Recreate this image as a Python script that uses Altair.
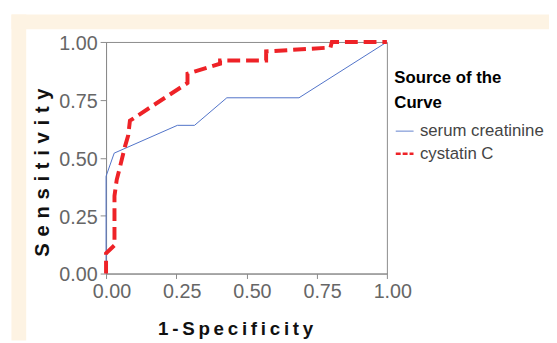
import altair as alt
import pandas as pd

series_names = ["serum creatinine", "cystatin C"]

creat_fpr = [0.0, 0.0, 0.029, 0.254, 0.315, 0.43, 0.687, 1.0]
creat_tpr = [0.0, 0.42, 0.52, 0.64, 0.64, 0.759, 0.759, 1.0]

cyst_fpr = [0.0, 0.0, 0.03, 0.03, 0.038, 0.05, 0.067, 0.079, 0.085, 0.29, 0.29,
            0.406, 0.406, 0.57, 0.57, 0.799, 0.804, 1.0]
cyst_tpr = [0.0, 0.087, 0.122, 0.335, 0.405, 0.462, 0.547, 0.597, 0.66, 0.823, 0.863,
            0.906, 0.92, 0.92, 0.959, 0.976, 1.0, 1.0]

tick_values = [0.0, 0.25, 0.5, 0.75, 1.0]

BLUE = "#4f72c8"
RED = "#ee2227"
CREAM = "#fdf3e3"
GRAY = "#8a8a8a"
SANS = "Liberation Sans, Arial, sans-serif"

df_creat = pd.DataFrame({"series": series_names[0], "fpr": creat_fpr, "tpr": creat_tpr,
                         "idx": range(len(creat_fpr))})
df_cyst = pd.DataFrame({"series": series_names[1], "fpr": cyst_fpr, "tpr": cyst_tpr,
                        "idx": range(len(cyst_fpr))})
df_all = pd.concat([df_creat, df_cyst], ignore_index=True)

x_title = "\u2009".join("1-Specificity")
y_title = "\u2004".join("Sensitivity")

x_enc = alt.X("fpr:Q", scale=alt.Scale(domain=[0, 1], nice=False, zero=False),
              axis=alt.Axis(values=tick_values, format=".2f", title=x_title,
                            labelOffset=5.5, labelPadding=3, tickSize=5,
                            labelFlush=False,
                            titleX=131, titleY=61.5, titleBaseline="alphabetic",
                            titleFontSize=19))
y_enc = alt.Y("tpr:Q", scale=alt.Scale(domain=[0, 1], nice=False, zero=False),
              axis=alt.Axis(values=tick_values, format=".2f", title=y_title,
                            labelPadding=3, tickSize=6, labelOffset=1.5,
                            labelFlush=False,
                            titleX=-58.5, titleY=132, titleBaseline="alphabetic",
                            titleFontSize=20.5))

one = pd.DataFrame({"a": [0]})
# cream L-shaped frame (top strip and left strip), outside the plot area
cream_top = alt.Chart(one).mark_rect(color=CREAM).encode(
    x=alt.value(-96), x2=alt.value(450), y=alt.value(-28), y2=alt.value(-13))
cream_left = alt.Chart(one).mark_rect(color=CREAM).encode(
    x=alt.value(-96), x2=alt.value(-81), y=alt.value(-28), y2=alt.value(303))

legend_layer = alt.Chart(df_all).transform_filter("false").mark_line().encode(
    x=x_enc, y=y_enc,
    color=alt.Color("series:N",
                    scale=alt.Scale(domain=series_names, range=[BLUE, RED]),
                    legend=alt.Legend(title=["Source of the", "Curve"], orient="none",
                                      legendX=292.5, legendY=28.5, padding=0,
                                      titleFont=SANS, titleFontSize=17,
                                      titleFontWeight="bold", titleColor="black",
                                      titleLineHeight=26, titlePadding=9.5,
                                      labelFont=SANS, labelFontSize=17,
                                      labelColor="#444444", symbolType="stroke",
                                      symbolSize=324, rowPadding=4, labelOffset=5)),
    strokeDash=alt.StrokeDash("series:N",
                              scale=alt.Scale(domain=series_names, range=[[1, 0], [5, 2]])),
    strokeWidth=alt.StrokeWidth("series:N",
                                scale=alt.Scale(domain=series_names, range=[1, 2.5])),
)

blue_line = alt.Chart(df_creat).mark_line(color=BLUE, strokeWidth=1).encode(
    x=x_enc, y=y_enc, order="idx:Q")
red_line = alt.Chart(df_cyst).mark_line(color=RED, strokeWidth=4, strokeDash=[13, 6]).encode(
    x=x_enc, y=y_enc, order="idx:Q")

chart = alt.layer(cream_top, cream_left, legend_layer, blue_line, red_line).properties(
    width=285, height=235,
    autosize=alt.AutoSizeParams(type="none"),
    padding={"left": 99.5, "top": 32, "right": 164.5, "bottom": 68},
    background="white",
).configure_view(
    stroke=GRAY, strokeWidth=1, fill="white"
).configure_axis(
    grid=False, domainColor=GRAY, tickColor=GRAY, domainWidth=1, tickWidth=1,
    labelFont=SANS, labelFontSize=20, labelColor="#666666",
    titleFont=SANS, titleFontWeight="bold", titleColor="#111111",
)

chart.save("out.html", embed_options={"renderer": "svg", "actions": False})
